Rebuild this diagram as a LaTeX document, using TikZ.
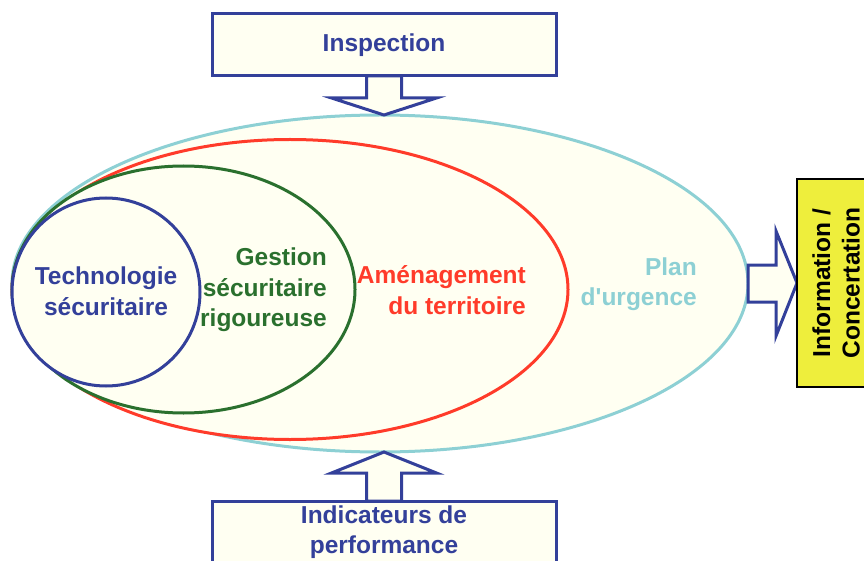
\documentclass[tikz,border=0pt]{standalone}
\usepackage{fontspec}
\setmainfont{Liberation Sans}
\usetikzlibrary{shapes.geometric}
\definecolor{dblue}{HTML}{33409A}
\definecolor{dgreen}{HTML}{2A702E}
\definecolor{lred}{HTML}{FF3B2A}
\definecolor{lteal}{HTML}{8DD0D4}
\definecolor{ivory}{HTML}{FFFFF2}
\definecolor{yfill}{HTML}{EEEE3C}
\tikzstyle{zone} = [ellipse, fill=ivory, line width=3pt, inner sep=0pt,
outer sep=0pt]
\tikzstyle{zonetext} = [font=\fontsize{24.5}{30.5}\selectfont\bfseries,
align=right, anchor=east, inner sep=0pt]
\tikzstyle{box} = [rectangle, draw=dblue, fill=ivory, line width=3pt,
minimum width=344pt, minimum height=62pt, outer sep=0pt, text=dblue,
font=\fontsize{24.5}{30}\selectfont\bfseries, align=center]
\tikzstyle{blockarrow} = [draw=dblue, fill=ivory, line width=3pt,
line join=miter]

\begin{document}
\begin{tikzpicture}[x=1pt,y=-1pt]
  \useasboundingbox (0,0) rectangle (864,561);
  \node[zone, draw=lteal, minimum width=736pt, minimum height=337pt] (plan) at (380,283.5) {};
  \node[zonetext, text=lteal] (plantxt) at (697,284) {Plan\\d\textquotesingle urgence};
  \node[zone, draw=lred, minimum width=556pt, minimum height=300pt] (amenag) at (290,289.5) {};
  \node[zonetext, text=lred] (amenagtxt) at (526,290) {Aménagement\\du territoire};
  \node[zone, draw=dgreen, minimum width=343pt, minimum height=247pt] (gestion) at (183.5,289.5) {};
  \node[zonetext, text=dgreen] (gestiontxt) at (327,290) {Gestion\\sécuritaire\\rigoureuse};
  \node[zone, circle, draw=dblue, minimum size=188pt] (techno) at (106,292) {};
  \node[zonetext, text=dblue, align=center, anchor=center] (technotxt) at (106,291) {Technologie\\sécuritaire};

  \node[box] (insp) at (384,45) {Inspection};
  \node[box] (indic) at (384,532) {Indicateurs de\\performance};

  \draw[blockarrow] ([xshift=-17.5pt]insp.south) -- ++(0,22) -- ++(-35,0)
    -- (plan.north -| insp.south) -- ([xshift=52.5pt,yshift=-22pt]insp.south)
    -- ++(-35,0) -- ([xshift=17.5pt]insp.south) -- cycle;
  \draw[blockarrow] ([xshift=-17.5pt]indic.north) -- ++(0,-28) -- ++(-35,0)
    -- (plan.south -| indic.north) -- ([xshift=52.5pt,yshift=28pt]indic.north)
    -- ++(-35,0) -- ([xshift=17.5pt]indic.north) -- cycle;
  \draw[blockarrow] ([yshift=18.5pt]plan.east) -- ++(28,0) -- ++(0,-34)
    -- (797,283) -- ([xshift=28pt,yshift=-52.5pt]plan.east)
    -- ++(0,-34) -- ([yshift=-18.5pt]plan.east) -- cycle;

  \node[rectangle, draw=black, fill=yfill, line width=2.5pt, outer sep=0pt,
    minimum width=78pt, minimum height=208pt] (info) at (836,283) {};
  \node[rotate=90, font=\fontsize{24.5}{29.5}\selectfont\bfseries, align=center]
    (infotxt) at (info.center) {Information /\\Concertation};
\end{tikzpicture}
\end{document}
